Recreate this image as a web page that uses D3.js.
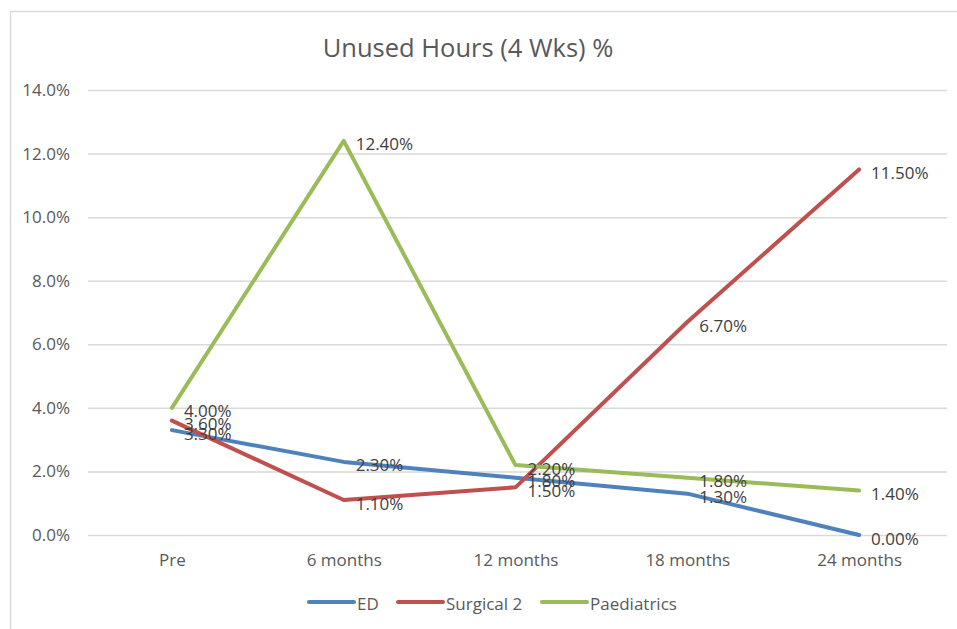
<!DOCTYPE html>
<html><head><meta charset="utf-8">
<script src="https://cdn.jsdelivr.net/npm/d3@7"></script>
<style>body{margin:0;background:#fff}svg{display:block}text{font-family:"Open Sans",sans-serif}</style>
</head><body>
<svg id="c" width="957" height="629"></svg>
<script>
const categories = ["Pre","6 months","12 months","18 months","24 months"];
const seriesNames = ["ED","Surgical 2","Paediatrics"];
const edValues = [3.3, 2.3, 1.8, 1.3, 0.0];
const surgicalValues = [3.6, 1.1, 1.5, 6.7, 11.5];
const paedValues = [4.0, 12.4, 2.2, 1.8, 1.4];
const seriesColors = ["#4F81BD","#C0504D","#9BBB59"];
const yTicks = [0,2,4,6,8,10,12,14];
const title = "Unused Hours (4 Wks) %";

const series = [edValues, surgicalValues, paedValues].map((v,i)=>({name:seriesNames[i], values:v, color:seriesColors[i]}));
const svg = d3.select("#c");
svg.append("rect").attr("x",10.5).attr("y",11.5).attr("width",980).attr("height",700)
  .attr("fill","#fff").attr("stroke","#d9d9d9").attr("stroke-width",1.5);

const x = d3.scalePoint().domain(categories).range([86,945]).padding(0.5);
const y = d3.scaleLinear().domain([0,14]).range([535,90]);

svg.append("text").attr("x",468).attr("y",57).attr("text-anchor","middle")
  .attr("font-size",25.5).attr("fill","#595959").text(title);

const yAxis = svg.append("g").attr("transform","translate(88,0)")
  .call(d3.axisLeft(y).tickValues(yTicks).tickSize(-859).tickFormat(d=>d.toFixed(1)+"%"));
yAxis.select(".domain").remove();
yAxis.selectAll(".tick line").attr("stroke","#d9d9d9").attr("stroke-width",1.5);
yAxis.selectAll(".tick text").attr("x",-18).attr("font-size",17).attr("fill","#595959").attr("font-family","Open Sans");

const xAxis = svg.append("g").attr("transform","translate(0,535)")
  .call(d3.axisBottom(x).tickSize(0).tickPadding(19));
xAxis.select(".domain").remove();
xAxis.selectAll(".tick text").attr("font-size",17).attr("fill","#595959").attr("font-family","Open Sans");

const line = d3.line().x((d,i)=>x(categories[i])).y(d=>y(d));
series.forEach(s=>{
  svg.append("path").attr("d",line(s.values)).attr("fill","none")
    .attr("stroke",s.color).attr("stroke-width",4).attr("stroke-linejoin","round").attr("stroke-linecap","round");
});
series.forEach(s=>{
  svg.append("g").selectAll("text").data(s.values).join("text")
    .attr("x",(d,i)=>x(categories[i])+12).attr("y",d=>y(d)+3)
    .attr("dominant-baseline","central").attr("font-size",17).attr("fill","#404040")
    .text(d=>d.toFixed(2)+"%");
});

const legendX = [309,398,542];
series.forEach((s,i)=>{
  const g = svg.append("g").attr("transform",`translate(${legendX[i]},602)`);
  g.append("line").attr("x1",0).attr("x2",45).attr("stroke",s.color).attr("stroke-width",4).attr("stroke-linecap","round");
  g.append("text").attr("x",48).attr("y",1).attr("dominant-baseline","central")
    .attr("font-size",17).attr("fill","#595959").text(s.name);
});
</script>
</body></html>
